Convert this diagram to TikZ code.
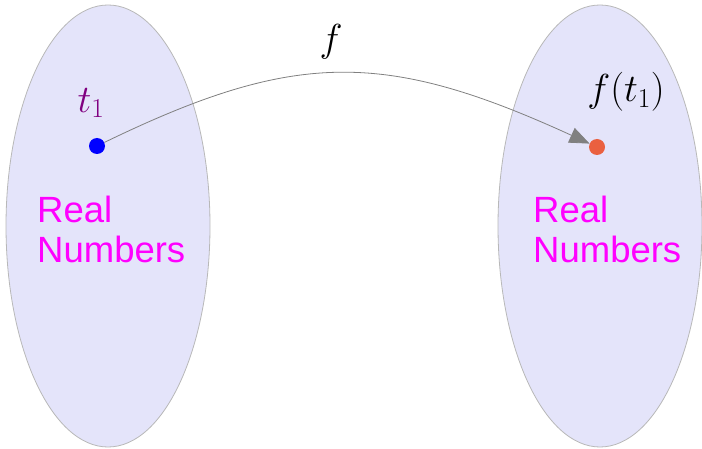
\documentclass[tikz,border=0pt]{standalone}
\usepackage{fix-cm}
\usepackage{fontspec}
\setsansfont{Liberation Sans}
\usepackage{tikz}
\usetikzlibrary{shapes.geometric, arrows.meta, positioning}
\definecolor{setfill}{RGB}{228,228,250}
\definecolor{setgray}{RGB}{184,184,184}
\definecolor{dotblue}{RGB}{0,0,255}
\definecolor{dotorange}{RGB}{234,96,64}
\definecolor{nummagenta}{RGB}{255,0,255}
\definecolor{labpurple}{RGB}{128,0,128}
\definecolor{mapgray}{RGB}{128,128,128}
\tikzset{
  realset/.style={ellipse, draw=setgray, fill=setfill, line width=0.8pt,
    minimum width=204pt, minimum height=442pt, inner sep=0pt},
  elem/.style={circle, inner sep=0pt, minimum size=16pt},
  nums/.style={font=\fontsize{36.5}{40}\selectfont\sffamily, text=nummagenta,
    align=left, inner sep=0pt, anchor=north west},
  mlbl/.style={font=\fontsize{39}{42}\selectfont, inner sep=0pt},
  maparrow/.style={-{Triangle[length=20pt,width=16pt]}, mapgray, line width=0.8pt}
}
\begin{document}
\begin{tikzpicture}[x=1pt, y=-1pt]
  \useasboundingbox (0,0) rectangle (702,449);
  \node[realset] (domain) at (108,226) {};
  \node[realset] (codomain) at (600,226) {};
  \node[elem, fill=dotblue] (t1) at (97,146) {};
  \node[elem, fill=dotorange] (ft1) at (597,147) {};
  \node[mlbl, text=labpurple] (t1lbl) at (91,103) {$t_1$};
  \node[mlbl] (ft1lbl) at (626,92) {$f(t_1)$};
  \node[mlbl] (flbl) at (331,42) {$f$};
  \node[nums] (domainnums) at (37,196) {Real\\Numbers};
  \node[nums] (codomainnums) at (533,196) {Real\\Numbers};
  \draw[maparrow] (t1) .. controls (295,50) and (385,50) .. (ft1);
\end{tikzpicture}
\end{document}
